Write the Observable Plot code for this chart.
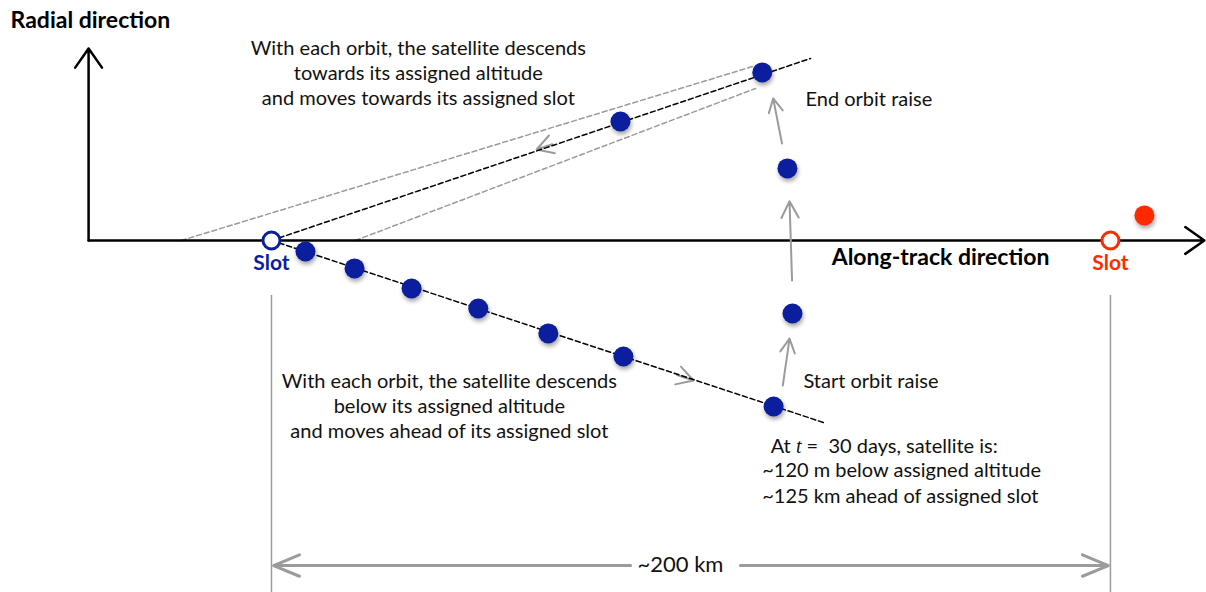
<!DOCTYPE html>
<html>
<head>
<meta charset="utf-8">
<script src="https://cdn.jsdelivr.net/npm/d3@7"></script>
<script src="https://cdn.jsdelivr.net/npm/@observablehq/plot@0.6"></script>
<style>
  html, body { margin: 0; padding: 0; background: #fff; }
  svg { display: block; }
</style>
</head>
<body>
<div id="chart"></div>
<script>
// Units: along-track distance in km (0 = assigned slot), radial offset in m (0 = assigned altitude)

// Satellite positions while drifting (descending) after insertion
const descendKm = [8.1, 19.8, 33.4, 49.3, 66.0, 83.9, 119.7];
const descendM  = [-8.0, -20.2, -34.7, -49.2, -67.2, -83.9, -120.0];

// Satellite positions during orbit raise
const raiseKm = [124.2, 123.0, 117.0];
const raiseM  = [-52.8, 52.1, 121.5];

// Satellite position on the return drift
const returnKm = [83.2];
const returnM  = [86.0];

// Slots
const slotKm = [0, 200];
const slotLabels = ["Slot", "Slot"];
const otherSatKm = [208.1];
const otherSatM = [18.1];

// Trajectory guide lines (dashed)
const lowerTrackKm = [0, 131.6], lowerTrackM = [0, -131.6];
const upperTrackKm = [0, 128.5], upperTrackM = [0, 131.6];
const envUpperKm = [-21.5, 114.7], envUpperM = [0, 125.8];
const envLowerKm = [20.0, 115.4],  envLowerM = [0, 109.9];

// Axis extents
const axisXKm = [-43.6, 222.4];
const axisYM = [0, 138.8];

// Drift direction arrows along the tracks (tail -> head)
const driftArrows = [
  {x1: 76.0, y1: 78.8, x2: 63.2, y2: 65.8},
  {x1: 87.6, y1: -88.5, x2: 100.6, y2: -101.2}
];
// Orbit-raise arrows (tail -> head)
const raiseArrows = [
  {x1: 121.9, y1: -104.8, x2: 123.5, y2: -70.9},
  {x1: 124.1, y1: -28.9, x2: 123.5, y2: 28.4},
  {x1: 121.7, y1: 70.1, x2: 119.6, y2: 102.7}
];

// Separation dimension
const separationKm = 200;
const separationLabel = "~200 km";
const dimY = -235;
const dimTopM = -39.8, dimBottomM = -254.5;

// Text annotations
const upperText = ["With each orbit, the satellite descends", "towards its assigned altitude", "and moves towards its assigned slot"];
const lowerText = ["With each orbit, the satellite descends", "below its assigned altitude", "and moves ahead of its assigned slot"];
const statusText = ["At t =  30 days, satellite is:", "~120 m below assigned altitude", "~125 km ahead of assigned slot"];

const navy = "#0A1E9E";
const red = "#FF2A00";
const grey = "#9B9B9B";
const font = "Lato, 'Open Sans', sans-serif";
const shadow = "drop-shadow(1px 3px 2px rgba(0,0,0,0.35))";

const pts = (xs, ys) => xs.map((x, i) => ({x, y: ys[i]}));
const descend = pts(descendKm, descendM);
const raise = pts(raiseKm, raiseM);
const ret = pts(returnKm, returnM);

const lineStack = (lines, x, y0, step) => lines.map((t, i) => ({t, x, y: y0 - i * step}));

const chart = Plot.plot({
  width: 1206,
  height: 592,
  margin: 0,
  x: {domain: [-64.6, 222.9], axis: null},
  y: {domain: [-254.5, 173.5], axis: null},
  style: {fontFamily: font, background: "#fff", overflow: "visible"},
  marks: [
    // dimension extension lines
    Plot.ruleX([0, separationKm], {y1: dimTopM, y2: dimBottomM, stroke: grey, strokeWidth: 1.5}),
    // dimension arrows
    Plot.arrow([{x1: 85.6, x2: 0.5}, {x1: 111.8, x2: 199.5}], {
      x1: "x1", x2: "x2", y1: dimY, y2: dimY, stroke: grey, strokeWidth: 3, headLength: 14, headAngle: 45
    }),
    Plot.text([separationLabel], {x: 97.5, y: -234.3, text: d => d, fontSize: 22, fill: "#111"}),

    // drift direction arrows (drawn under the dashed tracks)
    Plot.arrow(driftArrows, {x1: "x1", y1: "y1", x2: "x2", y2: "y2", stroke: grey, strokeWidth: 2, headLength: 14, headAngle: 60, insetStart: 40}),

    // envelope dashed lines
    Plot.line(pts(envUpperKm, envUpperM), {x: "x", y: "y", stroke: grey, strokeWidth: 1.5, strokeDasharray: "5,3"}),
    Plot.line(pts(envLowerKm, envLowerM), {x: "x", y: "y", stroke: grey, strokeWidth: 1.5, strokeDasharray: "5,3"}),
    // track dashed lines
    Plot.line(pts(lowerTrackKm, lowerTrackM), {x: "x", y: "y", stroke: "#000", strokeWidth: 1.5, strokeDasharray: "5,3"}),
    Plot.line(pts(upperTrackKm, upperTrackM), {x: "x", y: "y", stroke: "#000", strokeWidth: 1.5, strokeDasharray: "5,3"}),

    // axes
    Plot.arrow([{}], {x1: axisXKm[0], x2: axisXKm[1], y1: 0, y2: 0, stroke: "#000", strokeWidth: 2.5, headLength: 14, headAngle: 70}),
    Plot.arrow([{}], {x1: axisXKm[0], x2: axisXKm[0], y1: axisYM[0], y2: axisYM[1], stroke: "#000", strokeWidth: 2.5, headLength: 14, headAngle: 70}),

    // orbit-raise arrows
    Plot.arrow(raiseArrows, {x1: "x1", y1: "y1", x2: "x2", y2: "y2", stroke: grey, strokeWidth: 2, headLength: 14, headAngle: 55}),

    // satellites
    Plot.dot(descend, {x: "x", y: "y", r: 10, fill: navy, imageFilter: shadow}),
    Plot.dot(raise, {x: "x", y: "y", r: 10, fill: navy, imageFilter: shadow}),
    Plot.dot(ret, {x: "x", y: "y", r: 10, fill: navy, imageFilter: shadow}),
    Plot.dot(pts(otherSatKm, otherSatM), {x: "x", y: "y", r: 10, fill: red, imageFilter: shadow}),

    // slots
    Plot.dot(slotKm, {x: d => d, y: 0, r: 8.5, fill: "#fff", stroke: (d, i) => i === 0 ? navy : red, strokeWidth: 3}),
    Plot.text(slotKm, {x: d => d, y: -16.2, text: (d, i) => slotLabels[i], fill: (d, i) => i === 0 ? navy : red, fontSize: 21, fontWeight: "bold"}),

    // axis titles
    Plot.text(["Radial direction"], {x: -62.2, y: 159.1, text: d => d, textAnchor: "start", fontSize: 23, fontWeight: "bold", fill: "#000"}),
    Plot.text(["Along-track direction"], {x: 159.5, y: -12.3, text: d => d, fontSize: 23, fontWeight: "bold", fill: "#000"}),

    // annotations
    Plot.text(lineStack(upperText, 35.0, 138.8, 18.05), {x: "x", y: "y", text: "t", fontSize: 20, fill: "#111"}),
    Plot.text(lineStack(lowerText, 42.4, -102, 18.05), {x: "x", y: "y", text: "t", fontSize: 20, fill: "#111"}),
    Plot.text(["End orbit raise"], {x: 127.3, y: 102, text: d => d, textAnchor: "start", fontSize: 20, fill: "#111"}),
    Plot.text(["Start orbit raise"], {x: 126.8, y: -102, text: d => d, textAnchor: "start", fontSize: 20, fill: "#111"}),
    Plot.text([{t: statusText[0], x: 119.0, y: -149}, {t: statusText[1], x: 117.0, y: -166.3}, {t: statusText[2], x: 117.0, y: -185.1}],
      {x: "x", y: "y", text: "t", textAnchor: "start", fontSize: 20, fill: "#111"})
  ]
});

// italicise the "t" in the status line
chart.querySelectorAll("text").forEach(el => {
  if (el.textContent === statusText[0]) {
    const target = el.querySelector("tspan") || el;
    target.textContent = "";
    const ns = "http://www.w3.org/2000/svg";
    const a = document.createElementNS(ns, "tspan"); a.textContent = "At ";
    const b = document.createElementNS(ns, "tspan"); b.textContent = "t"; b.setAttribute("font-style", "italic"); b.setAttribute("font-family", "'Liberation Serif', serif");
    const c = document.createElementNS(ns, "tspan"); c.textContent = " =  30 days, satellite is:";
    target.append(a, b, c);
  }
});

document.getElementById("chart").append(chart);
</script>
</body>
</html>
